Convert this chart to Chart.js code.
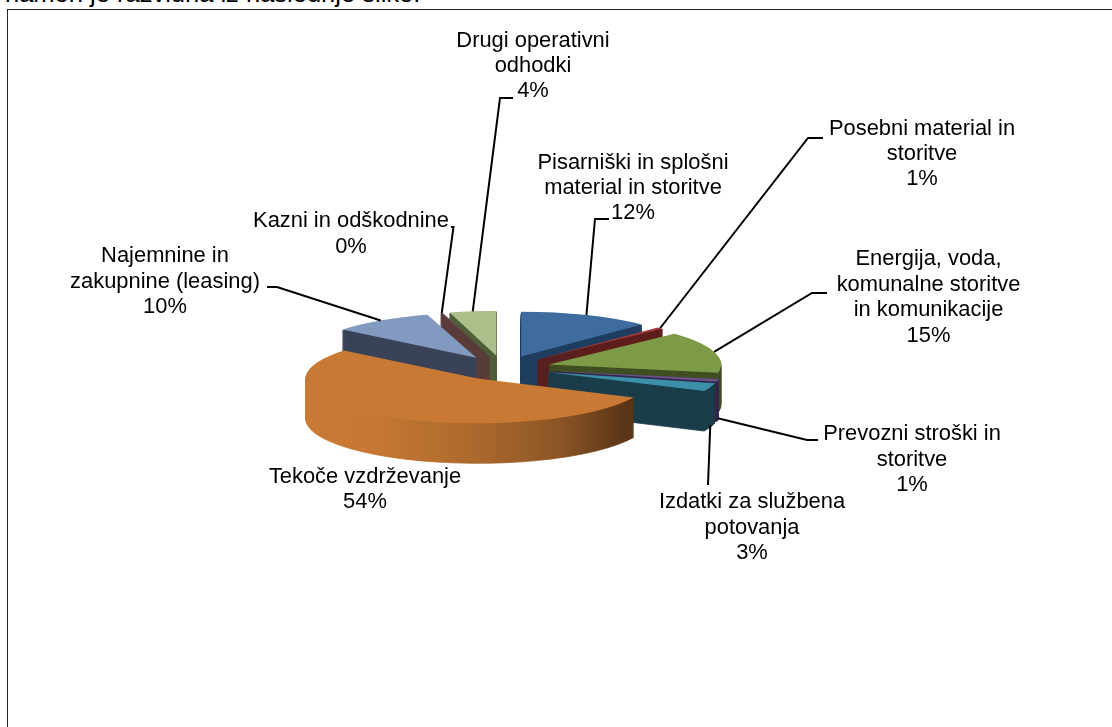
<!DOCTYPE html>
<html lang="sl">
<head>
<meta charset="utf-8">
<title>Odhodki</title>
<script src="https://cdn.jsdelivr.net/npm/chart.js@4"></script>
<style>
  html, body { margin: 0; padding: 0; background: #fff; width: 1112px; height: 727px; overflow: hidden; }
  #intro { position: absolute; left: 5px; top: -21px; font: 25.5px "Liberation Sans", Arial, sans-serif; color: #000; white-space: nowrap; }
  #frame { position: absolute; left: 7px; top: 9px; width: 1200px; height: 900px; border: 1.5px solid #222; box-shadow: 0 1px 0 #bbb; }
  #chart { position: absolute; left: 0; top: 0; }
</style>
</head>
<body>
<div id="intro">namen je razvidna iz naslednje slike.</div>
<div id="frame"></div>
<canvas id="chart" width="1112" height="727"></canvas>
<script>
// slices, clockwise from north
const categories = [
  ['Pisarniški in splošni', 'material in storitve'],
  ['Posebni material in', 'storitve'],
  ['Energija, voda,', 'komunalne storitve', 'in komunikacije'],
  ['Prevozni stroški in', 'storitve'],
  ['Izdatki za službena', 'potovanja'],
  ['Tekoče vzdrževanje'],
  ['Najemnine in', 'zakupnine (leasing)'],
  ['Kazni in odškodnine'],
  ['Drugi operativni', 'odhodki']
];
const shares = [12.4, 0.6, 15, 1, 3, 54, 9.6, 0.2, 4.4];
const topColors = ['#3E6C9F', '#A33B39', '#7D9B46', '#6A5089', '#3B8FA8', '#C87A34', '#829ABF', '#6A4646', '#ADBF8B'];
const wallColors = ['#1F3D60', '#5E1E1D', '#3F4F22', '#33264A', '#1A3D4A', null, '#3A4358', '#5A3B3B', '#4E5F38'];

// look of the tilted pie
const tilt = 0.26, depth = 40, explode = 48;
const drawOrder = [8, 7, 6, 0, 1, 2, 3, 4, 5];
const orangeWall = [[0, '#C97B35'], [0.2, '#C67832'], [0.5, '#AD6A2D'], [0.77, '#8C5526'], [0.96, '#5E3718'], [1, '#583315']];

// label centre x, first line centre y, line step, leader elbow and hook end (null = no leader)
const labelLayout = [
  { x: 633, y: 163, step: 25, elbow: [595, 219], hook: [609, 219] },
  { x: 922, y: 129, step: 25, elbow: [808, 138], hook: [823, 138] },
  { x: 928.5, y: 259, step: 25.5, elbow: [812, 293], hook: [827, 293] },
  { x: 912, y: 434, step: 25.5, elbow: [807, 440], hook: [818, 440] },
  { x: 752, y: 502, step: 25.5, elbow: [708, 485], hook: null },
  { x: 365, y: 477, step: 25, elbow: null, hook: null },
  { x: 165, y: 256, step: 25.5, elbow: [277, 287], hook: [267, 287] },
  { x: 351, y: 221, step: 26, elbow: [453.5, 227], hook: [451, 227] },
  { x: 533, y: 41, step: 25, elbow: [500, 98], hook: [513, 98] }
];

function sliceShift(arc) {
  const mid = (arc.startAngle + arc.endAngle) / 2;
  return { mid, dx: Math.cos(mid) * explode, dy: Math.sin(mid) * explode * tilt };
}

function squash(ctx, arc) {
  ctx.translate(arc.x, arc.y);
  ctx.scale(1, tilt);
  ctx.translate(-arc.x, -arc.y);
}

function drawSlice(ctx, arc, i) {
  const { dx, dy } = sliceShift(arc);
  let wall = wallColors[i];
  if (!wall) {
    wall = ctx.createLinearGradient(arc.x + dx - arc.outerRadius, 0, arc.x + dx + arc.outerRadius * 0.91, 0);
    orangeWall.forEach(s => wall.addColorStop(s[0], s[1]));
  }
  for (let d = depth; d > 0; d--) {
    ctx.save();
    ctx.translate(dx, dy + d);
    squash(ctx, arc);
    ctx.beginPath();
    ctx.moveTo(arc.x, arc.y);
    ctx.arc(arc.x, arc.y, arc.outerRadius, arc.startAngle, arc.endAngle);
    ctx.closePath();
    ctx.restore();
    // thin slices need the stroke, a fill alone leaves them striped
    ctx.fillStyle = wall;
    ctx.strokeStyle = wall;
    ctx.lineWidth = 0.8;
    ctx.fill();
    ctx.stroke();
  }
  ctx.save();
  ctx.translate(dx, dy);
  squash(ctx, arc);
  arc.draw(ctx);
  ctx.restore();
}

function drawLabel(ctx, arc, i) {
  const layout = labelLayout[i];
  if (layout.elbow) {
    const { mid, dx, dy } = sliceShift(arc);
    const ax = arc.x + dx + Math.cos(mid) * arc.outerRadius;
    let ay = arc.y + dy + Math.sin(mid) * arc.outerRadius * tilt;
    if (Math.sin(mid) > 0.2) ay += depth - 2;
    ctx.beginPath();
    ctx.moveTo(ax, ay);
    ctx.lineTo(layout.elbow[0], layout.elbow[1]);
    if (layout.hook) ctx.lineTo(layout.hook[0], layout.hook[1]);
    ctx.lineWidth = 2;
    ctx.strokeStyle = '#000';
    ctx.stroke();
  }
  ctx.font = '21.9px "Liberation Sans", Arial, sans-serif';
  ctx.fillStyle = '#000';
  ctx.textAlign = 'center';
  ctx.textBaseline = 'middle';
  const lines = categories[i].concat(Math.round(shares[i]) + '%');
  lines.forEach((t, n) => ctx.fillText(t, layout.x, layout.y + n * layout.step));
}

const tiltedPie = {
  id: 'tiltedPie',
  beforeDatasetsDraw(chart) {
    const ctx = chart.ctx;
    const arcs = chart.getDatasetMeta(0).data;
    drawOrder.forEach(i => drawSlice(ctx, arcs[i], i));
    arcs.forEach((arc, i) => drawLabel(ctx, arc, i));
    return false;
  }
};

new Chart(document.getElementById('chart'), {
  type: 'pie',
  data: {
    labels: categories,
    datasets: [{ data: shares, backgroundColor: topColors, borderWidth: 0 }]
  },
  options: {
    responsive: false,
    animation: false,
    radius: 172,
    layout: { padding: { right: 106, top: 9 } },
    plugins: { legend: { display: false }, tooltip: { enabled: false } }
  },
  plugins: [tiltedPie]
});
</script>
</body>
</html>
